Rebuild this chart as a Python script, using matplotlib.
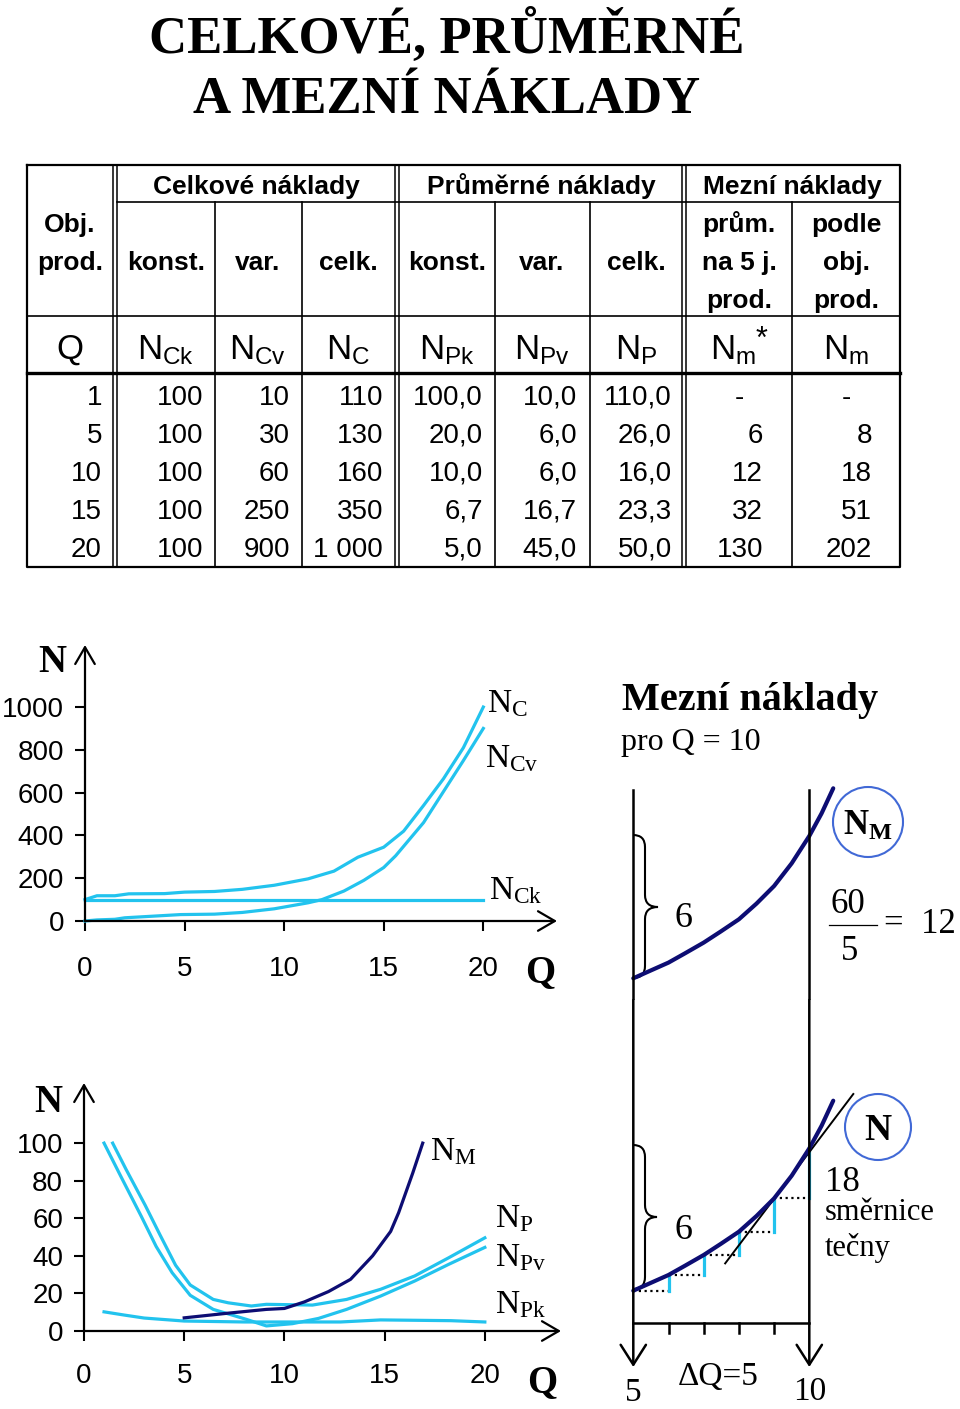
import matplotlib
matplotlib.use("Agg")
import matplotlib.pyplot as plt
from matplotlib.patches import Circle, PathPatch
from matplotlib.path import Path

W, H = 960, 1409
SERIF = "Liberation Serif"
SANS = "Liberation Sans"
CYAN = "#22c3ee"
NAVY = "#0d0d73"
RING = "#4169d6"

plt.rcParams["font.family"] = SANS
plt.rcParams["mathtext.fontset"] = "custom"
plt.rcParams["mathtext.rm"] = SERIF
plt.rcParams["mathtext.sf"] = SANS
plt.rcParams["mathtext.bf"] = SERIF + ":bold"
plt.rcParams["mathtext.it"] = SERIF + ":italic"

# table values
q_vals = [1, 5, 10, 15, 20]
n_ck = [100, 100, 100, 100, 100]
n_cv = [10, 30, 60, 250, 900]
n_c = [110, 130, 160, 350, 1000]
n_pk = [100.0, 20.0, 10.0, 6.7, 5.0]
n_pv = [10.0, 6.0, 6.0, 16.7, 45.0]
n_p = [110.0, 26.0, 16.0, 23.3, 50.0]
n_m_avg = [None, 6, 12, 32, 130]
n_m = [None, 8, 18, 51, 202]

# total costs chart
nc_q = [0, 0.6, 1.5, 2.2, 4, 5, 6.5, 7.9, 9.5, 11.2, 12.5, 13.7, 15, 16, 17, 18, 19, 20]
nc_n = [100, 118, 118, 127, 128, 135, 138, 148, 167, 197, 233, 298, 345, 420, 540, 665, 810, 1000]
ncv_q = [0, 0.6, 1.5, 2, 4.8, 6.5, 7.9, 9.5, 11.2, 11.9, 13, 14, 15, 15.6, 17, 18, 19, 20]
ncv_n = [0, 5, 8, 15, 30, 32, 40, 57, 85, 100, 140, 190, 250, 305, 460, 605, 750, 900]
nck_q = [0, 20]
nck_n = [100, 100]

# average and marginal costs chart
npv_q = [1, 1.9, 2.86, 3.6, 4.4, 5.3, 6.45, 8.1, 9.1, 10.4, 11.7, 13.1, 14.8, 16.5, 18.2, 20]
npv_n = [100, 81, 61, 45, 31, 19, 11.5, 6.2, 2.7, 3.9, 6.7, 11.5, 18.6, 26.6, 35.5, 44.5]
np_q = [1.43, 2.1, 3.05, 3.8, 4.57, 5.3, 6.45, 7.2, 8.35, 9.1, 11.4, 13.1, 14.8, 16.5, 18.2, 20]
np_n = [100, 86, 67, 51, 35, 24.5, 16.8, 15, 13.3, 14.2, 13.8, 16.8, 22.2, 29.3, 39, 49.6]
npk_q = [1, 2, 3, 5, 8, 10, 12.8, 14.8, 18.3, 20]
npk_n = [10.2, 8.5, 6.9, 5.3, 4.8, 4.8, 4.8, 5.9, 5.5, 4.8]
nm_q = [5, 7.2, 9.1, 10, 11, 12.2, 13.3, 14.4, 15.3, 15.7, 16.4, 16.9]
nm_n = [7, 9.5, 11.5, 12, 15.5, 21, 27.5, 40, 53, 63, 84, 100]

# schematic marginal cost detail (Q 5..10)
mc_q = [5, 5.47, 6, 6.47, 7, 7.48, 8, 8.5, 9, 9.5, 10, 10.35, 10.68]
mc_n = [0, 7.4, 15.7, 25, 35.7, 46.7, 59, 74.7, 92.3, 115, 142.3, 165, 190]
step_q = [5, 6, 7, 8, 9, 10]
step_n = [0, 15.7, 35.7, 59, 92.3, 142.3]
tan_q = [7.61, 11.25]
tan_n = [27.3, 196.7]


def px_rect(x0, y0, x1, y1):
    return [x0 / W, 1 - y1 / H, (x1 - x0) / W, (y1 - y0) / H]


fig = plt.figure(figsize=(W / 100, H / 100), dpi=100)
ax0 = fig.add_axes([0, 0, 1, 1])
ax0.set_xlim(0, W)
ax0.set_ylim(H, 0)
ax0.axis("off")

# title
ax0.text(447, 53, "CELKOVÉ, PRŮMĚRNÉ", family=SERIF, weight="bold", fontsize=38,
         ha="center", va="baseline")
ax0.text(447, 113, "A MEZNÍ NÁKLADY", family=SERIF, weight="bold", fontsize=38,
         ha="center", va="baseline")


# ---- table ----
def ln(xs, ys, lw=1.2):
    ax0.plot(xs, ys, color="black", lw=lw, solid_capstyle="projecting")


ln([27, 900, 900, 27, 27], [165, 165, 567, 567, 165], lw=1.6)
for x in (113, 117, 395, 399, 682, 686):
    ln([x, x], [165, 567], lw=1.1)
for x in (215, 302, 495, 590, 792):
    ln([x, x], [202, 567])
ln([117, 900], [202, 202])
ln([27, 900], [316, 316])
ln([27, 900], [373, 373], lw=2.4)

hfs = 19
groups = [("Celkové náklady", 256), ("Průměrné náklady", 541), ("Mezní náklady", 792)]
for txt, x in groups:
    ax0.text(x, 194, txt, fontsize=hfs, weight="bold", ha="center", va="baseline")
ax0.text(70, 232, "Obj.", fontsize=hfs, weight="bold", ha="center", va="baseline")
ax0.text(70, 270, "prod.", fontsize=hfs, weight="bold", ha="center", va="baseline")
for txt, x in [("konst.", 166), ("var.", 258), ("celk.", 348),
               ("konst.", 447), ("var.", 542), ("celk.", 636)]:
    ax0.text(x, 270, txt, fontsize=hfs, weight="bold", ha="center", va="baseline")
for i, (a, b) in enumerate([("prům.", "podle"), ("na 5 j.", "obj."), ("prod.", "prod.")]):
    ax0.text(739, 232 + 38 * i, a, fontsize=hfs, weight="bold", ha="center", va="baseline")
    ax0.text(846, 232 + 38 * i, b, fontsize=hfs, weight="bold", ha="center", va="baseline")

symbols = ["Q", r"$\mathsf{N_{Ck}}$", r"$\mathsf{N_{Cv}}$", r"$\mathsf{N_{C}}$",
           r"$\mathsf{N_{Pk}}$", r"$\mathsf{N_{Pv}}$", r"$\mathsf{N_{P}}$",
           r"$\mathsf{N_{m}}$", r"$\mathsf{N_{m}}$"]
col_center = [70, 166, 258, 348, 447, 542, 636, 733, 846]
col_right = [102, 203, 290, 383, 483, 577, 672, 763, 872]
for s, x in zip(symbols, col_center):
    ax0.text(x, 359, s, fontsize=25, ha="center", va="baseline")
ax0.text(756, 348, "*", fontsize=22, ha="left", va="baseline")


def fmt(v):
    if v is None:
        return "-"
    if isinstance(v, float):
        return f"{v:.1f}".replace(".", ",")
    return f"{v:,}".replace(",", " ")


columns = [q_vals, n_ck, n_cv, n_c, n_pk, n_pv, n_p, n_m_avg, n_m]
for c, col in enumerate(columns):
    for r, v in enumerate(col):
        y = 405 + 38 * r
        if v is None:
            x = 739 if c == 7 else col_center[c]
            ax0.text(x, y, "-", fontsize=20, ha="center", va="baseline")
        else:
            ax0.text(col_right[c], y, fmt(v), fontsize=20, ha="right", va="baseline")


# ---- charts ----
def arrow_axes(ax):
    for s in ax.spines.values():
        s.set_visible(False)
    props = dict(arrowstyle="->,head_length=0.55,head_width=0.32", lw=1.6,
                 color="black", shrinkA=0, shrinkB=0, mutation_scale=22)
    ax.annotate("", xy=(1, 0), xytext=(0, 0), xycoords="axes fraction", arrowprops=props)
    ax.annotate("", xy=(0, 1), xytext=(0, 0), xycoords="axes fraction", arrowprops=props)
    ax.patch.set_visible(False)


ax1 = fig.add_axes(px_rect(85, 645, 557, 921))
ax1.plot(nck_q, nck_n, color=CYAN, lw=2.3, clip_on=False)
ax1.plot(ncv_q, ncv_n, color=CYAN, lw=2.3, clip_on=False)
ax1.plot(nc_q, nc_n, color=CYAN, lw=2.3, clip_on=False)
ax1.set_xlim(0, 23.7)
ax1.set_ylim(0, 1290)
ax1.set_xticks([0, 5, 10, 15, 20])
ax1.set_yticks([0, 200, 400, 600, 800, 1000])
ax1.tick_params(axis="both", direction="out", length=7, width=1.5, labelsize=20)
ax1.tick_params(axis="x", pad=18)
ax1.tick_params(axis="y", pad=8)
arrow_axes(ax1)

ax2 = fig.add_axes(px_rect(84, 1083, 561, 1331))
ax2.plot(npk_q, npk_n, color=CYAN, lw=2.3, clip_on=False)
ax2.plot(npv_q, npv_n, color=CYAN, lw=2.3, clip_on=False)
ax2.plot(np_q, np_n, color=CYAN, lw=2.3, clip_on=False)
ax2.plot(nm_q, nm_n, color=NAVY, lw=2.3, clip_on=False)
ax2.set_xlim(0, 23.8)
ax2.set_ylim(0, 132)
ax2.set_xticks([0, 5, 10, 15, 20])
ax2.set_yticks([0, 20, 40, 60, 80, 100])
ax2.tick_params(axis="both", direction="out", length=7, width=1.5, labelsize=20)
ax2.tick_params(axis="x", pad=16)
ax2.tick_params(axis="y", pad=8)
arrow_axes(ax2)

# axis titles and curve labels
for x, y, t in [(52, 672, "N"), (540, 982, "Q"), (48, 1112, "N"), (542, 1392, "Q")]:
    ax0.text(x, y, t, family=SERIF, weight="bold", fontsize=28, ha="center", va="baseline")
for x, y, t in [(487, 712, "N_{C}"), (485, 767, "N_{Cv}"), (489, 899, "N_{Ck}"),
                (430, 1160, "N_{M}"), (495, 1227, "N_{P}"), (495, 1266, "N_{Pv}"),
                (495, 1313, "N_{Pk}")]:
    ax0.text(x, y, r"$\mathrm{%s}$" % t, fontsize=24, ha="left", va="baseline")

# ---- marginal cost detail ----
q_lo = 5 - 33.3 / 35.2
q_hi = 5 + 326.7 / 35.2
axd1 = fig.add_axes(px_rect(600, 780, 960, 1000))
axd1.set_xlim(q_lo, q_hi)
axd1.set_ylim(-21.7, 198.3)
axd1.axis("off")
axd1.plot(mc_q, mc_n, color=NAVY, lw=3, solid_capstyle="round")
for qv in (5, 10):
    axd1.axvline(qv, ymin=0, ymax=210 / 220, color="black", lw=1.8)

axd2 = fig.add_axes(px_rect(600, 1000, 960, 1409))
axd2.set_xlim(q_lo, q_hi)
axd2.set_ylim(-118.3, 290.7)
axd2.axis("off")
for i in range(len(step_q) - 1):
    axd2.plot([step_q[i], step_q[i + 1]], [step_n[i], step_n[i]], color="black",
              lw=1.6, ls=(0, (1, 1.6)))
    axd2.plot([step_q[i + 1], step_q[i + 1]], [step_n[i], step_n[i + 1]], color=CYAN, lw=2.3)
axd2.plot(tan_q, tan_n, color="black", lw=1.4)
axd2.plot(mc_q, mc_n, color=NAVY, lw=3, solid_capstyle="round")
aprops = dict(arrowstyle="->,head_length=0.55,head_width=0.35", lw=1.8, color="black",
              shrinkA=0, shrinkB=0, mutation_scale=26)
for qv in (5, 10):
    axd2.annotate("", xy=(qv, -76.3), xytext=(qv, 290.7), arrowprops=aprops)
axd2.plot([5, 10], [-32.3, -32.3], color="black", lw=1.8)
for qv in step_q[1:-1]:
    axd2.plot([qv, qv], [-32.3, -42.3], color="black", lw=1.8)


def brace(x0, ytop, ybot, xt, ymid):
    x1 = x0 + 12
    d = 12
    verts = [(x0, ytop), (x1, ytop), (x1, ytop + d), (x1, ymid - d), (x1, ymid), (xt, ymid),
             (x1, ymid), (x1, ymid + d), (x1, ybot - d), (x1, ybot), (x0, ybot)]
    codes = [Path.MOVETO, Path.CURVE3, Path.CURVE3, Path.LINETO, Path.CURVE3, Path.CURVE3,
             Path.CURVE3, Path.CURVE3, Path.LINETO, Path.CURVE3, Path.CURVE3]
    ax0.add_patch(PathPatch(Path(verts, codes), fill=False, lw=1.5, color="black"))


brace(633, 835, 978, 658, 907)
brace(633, 1145, 1289, 657, 1217)

ax0.text(622, 710, "Mezní náklady", family=SERIF, weight="bold", fontsize=29,
         ha="left", va="baseline")
ax0.text(621, 750, "pro Q = 10", family=SERIF, fontsize=23, ha="left", va="baseline")
ax0.text(683, 927, "6", family=SERIF, fontsize=26, ha="center", va="baseline")
ax0.text(683, 1239, "6", family=SERIF, fontsize=26, ha="center", va="baseline")
ax0.text(848, 913, "60", family=SERIF, fontsize=25, ha="center", va="baseline")
ax0.plot([829, 877], [925, 925], color="black", lw=0.9)
ax0.text(850, 960, "5", family=SERIF, fontsize=25, ha="center", va="baseline")
ax0.text(884, 933, "=  12", family=SERIF, fontsize=25, ha="left", va="baseline")
ax0.text(825, 1191, "18", family=SERIF, fontsize=25, ha="left", va="baseline")
ax0.text(825, 1220, "směrnice", family=SERIF, fontsize=22, ha="left", va="baseline")
ax0.text(825, 1256, "tečny", family=SERIF, fontsize=22, ha="left", va="baseline")
ax0.text(633, 1401, "5", family=SERIF, fontsize=24, ha="center", va="baseline")
ax0.text(810, 1400, "10", family=SERIF, fontsize=24, ha="center", va="baseline")
ax0.text(718, 1385, "ΔQ=5", family=SERIF, fontsize=24, ha="center", va="baseline")

ax0.add_patch(Circle((868, 822), 35, fill=False, color=RING, lw=1.5))
ax0.text(868, 835, r"$\mathbf{N_{M}}$", fontsize=25, ha="center", va="baseline")
ax0.add_patch(Circle((878, 1127), 33, fill=False, color=RING, lw=1.5))
ax0.text(878, 1140, "N", family=SERIF, weight="bold", fontsize=27, ha="center", va="baseline")

fig.savefig("out.png", dpi=100)
